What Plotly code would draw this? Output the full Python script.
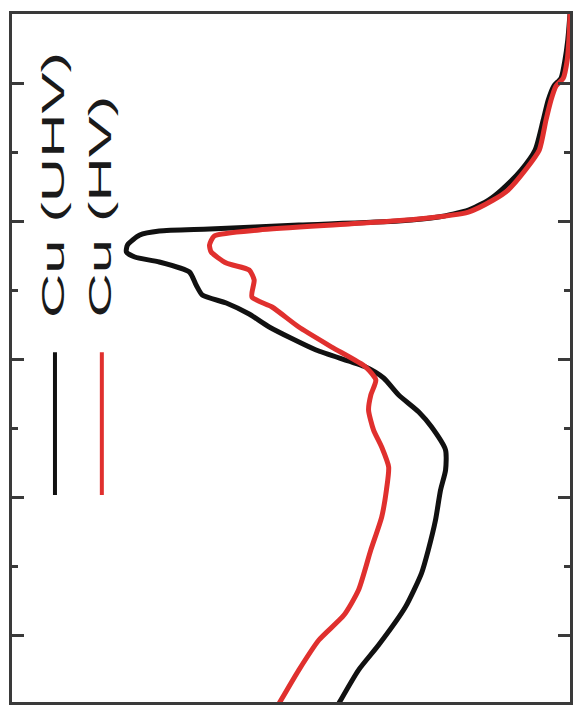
import plotly.graph_objects as go

# Energy (vertical, increasing downward) and intensity (horizontal) samples
energy_uhv = [0.0, 0.377, 0.667, 0.928, 1.043, 1.246, 1.536, 1.971, 2.261, 2.551, 2.696, 2.841,
              2.942, 3.0, 3.058, 3.116, 3.145, 3.203, 3.348, 3.449, 3.522, 3.594, 3.739, 3.928,
              4.072, 4.188, 4.348, 4.536, 4.870, 5.116, 5.275, 5.522, 5.768, 5.986, 6.319, 6.609,
              6.899, 7.333, 7.768, 8.101, 8.594, 9.145, 9.507, 9.986]
intensity_uhv = [1.0, 0.996, 0.991, 0.984, 0.971, 0.961, 0.952, 0.9375, 0.9125, 0.877, 0.854, 0.818,
                 0.764, 0.693, 0.514, 0.354, 0.264, 0.229, 0.207, 0.205, 0.220, 0.264, 0.318, 0.330,
                 0.341, 0.384, 0.425, 0.461, 0.545, 0.634, 0.666, 0.693, 0.729, 0.752, 0.777, 0.777,
                 0.768, 0.759, 0.746, 0.734, 0.705, 0.657, 0.621, 0.586]

energy_hv = [0.0, 0.377, 0.667, 0.928, 1.043, 1.246, 1.536, 1.971, 2.261, 2.551, 2.696, 2.870,
             2.971, 3.043, 3.130, 3.217, 3.348, 3.449, 3.609, 3.710, 3.855, 4.101, 4.246, 4.536,
             4.826, 5.116, 5.304, 5.522, 5.739, 6.029, 6.275, 6.565, 6.899, 7.290, 7.768, 8.348,
             8.710, 9.072, 9.507, 9.986]
intensity_hv = [1.0, 0.998, 0.995, 0.988, 0.975, 0.966, 0.957, 0.945, 0.920, 0.889, 0.8625, 0.818,
                0.729, 0.604, 0.443, 0.3625, 0.354, 0.357, 0.384, 0.425, 0.434, 0.430, 0.466, 0.514,
                0.573, 0.634, 0.652, 0.643, 0.639, 0.648, 0.6625, 0.675, 0.671, 0.6625, 0.643, 0.621,
                0.595, 0.550, 0.514, 0.479]

series_names = ["Cu (UHV)", "Cu (HV)"]
series_colors = ["#111111", "#e0302e"]

major_ticks = [1, 3, 5, 7, 9]

fig = go.Figure()
fig.add_trace(go.Scatter(x=intensity_uhv, y=energy_uhv, mode="lines", name=series_names[0],
                         line=dict(color=series_colors[0], width=5, shape="spline", smoothing=0.6)))
fig.add_trace(go.Scatter(x=intensity_hv, y=energy_hv, mode="lines", name=series_names[1],
                         line=dict(color=series_colors[1], width=5, shape="spline", smoothing=0.6)))

# Hand-placed vertical legend: short line sample below rotated label
legend_x = [0.077, 0.161]
legend_label_y = [2.478, 2.79]
for name, color, lx, ly in zip(series_names, series_colors, legend_x, legend_label_y):
    fig.add_shape(type="line", x0=lx, x1=lx, y0=4.9, y1=6.97, xref="x", yref="y",
                  line=dict(color=color, width=4))
    fig.add_annotation(x=lx - 0.003, y=ly, xref="x", yref="y", text=name, textangle=-90,
                       showarrow=False, font=dict(family="Liberation Sans, Arial", size=31,
                                                  color="#1a1a1a"))

fig.update_xaxes(range=[0, 1], showline=True, mirror=True, linecolor="#3a3a3a", linewidth=3,
                 showticklabels=False, ticks="", showgrid=False, zeroline=False)
fig.update_yaxes(range=[9.97, 0], showline=True, mirror="ticks", linecolor="#3a3a3a", linewidth=3,
                 tickvals=major_ticks, ticks="inside", ticklen=12, tickwidth=3, tickcolor="#3a3a3a",
                 showticklabels=False, showgrid=False, zeroline=False,
                 minor=dict(tick0=0, dtick=1, ticks="inside", ticklen=6, tickwidth=3,
                            tickcolor="#3a3a3a", showgrid=False))

fig.update_layout(width=577, height=706, margin=dict(l=12, r=5, t=14, b=4),
                  paper_bgcolor="white", plot_bgcolor="white", showlegend=False)

stretch_js = """
var gd = document.getElementById('{plot_id}');
function stretchLabels() {
  gd.querySelectorAll('.annotation-text').forEach(function (t) {
    t.style.transformBox = 'fill-box';
    t.style.transformOrigin = 'center';
    t.style.transform = 'scaleX(1.98)';
  });
}
stretchLabels();
if (gd.on) { gd.on('plotly_afterplot', stretchLabels); }
"""

fig.write_html("out.html", post_script=stretch_js)
